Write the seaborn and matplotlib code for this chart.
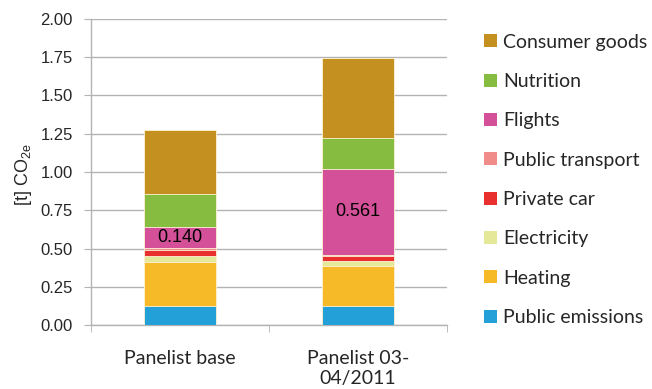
import numpy as np
import pandas as pd
import matplotlib
matplotlib.use("Agg")
import matplotlib.pyplot as plt
from matplotlib.patches import Patch
import seaborn as sns

# Emission data per panel (t CO2e), listed bottom to top of each stack
categories = ["Panelist base", "Panelist 03-\n04/2011"]
components = ["Public emissions", "Heating", "Electricity", "Private car",
              "Public transport", "Flights", "Nutrition", "Consumer goods"]
base_values = [0.126, 0.288, 0.037, 0.040, 0.010, 0.140, 0.218, 0.418]
panel_values = [0.125, 0.262, 0.031, 0.030, 0.011, 0.561, 0.200, 0.523]
colors = ["#23A0D8", "#F6B927", "#E6E899", "#E8302F",
          "#F08C8A", "#D4519A", "#86BD41", "#C49020"]
yticks = [0.00, 0.25, 0.50, 0.75, 1.00, 1.25, 1.50, 1.75, 2.00]

sns.set_style("white")
plt.rcParams["font.family"] = ["Liberation Sans", "DejaVu Sans"]

values = np.array([base_values, panel_values])  # shape (2, n_components)
cumulative = np.cumsum(values, axis=1)

fig = plt.figure(figsize=(6.52, 3.89), dpi=100)
ax = fig.add_axes([0.1396, 0.1645, 0.5460, 0.7867])

# Draw stacks as overlapping cumulative bars, tallest first
for i in range(len(components) - 1, -1, -1):
    df = pd.DataFrame({"cat": categories, "val": cumulative[:, i]})
    sns.barplot(data=df, x="cat", y="val", color=colors[i], width=0.4,
                saturation=1, edgecolor="#FFF3D8", linewidth=0.6, ax=ax,
                zorder=3)

# Value labels on the flights segment
fi = components.index("Flights")
for j in range(len(categories)):
    mid = cumulative[j, fi] - values[j, fi] / 2
    ax.text(j, mid, f"{values[j, fi]:.3f}", ha="center", va="center",
            fontsize=13, color="black", zorder=5)

ax.set_ylim(0, 2.0)
ax.set_xlim(-0.5, 1.5)
ax.set_yticks(yticks)
ax.set_yticklabels([f"{v:.2f}" for v in yticks], fontsize=12)
ax.yaxis.grid(True, color="#B3B3B3", linewidth=1.0, zorder=0)
ax.set_axisbelow(True)
ax.tick_params(axis="y", length=5, color="#B3B3B3", pad=8, direction="out",
               left=True)
ax.set_xticks([0, 1])
ax.set_xticklabels(categories, family=["Lato", "DejaVu Sans"], fontsize=14)
ax.tick_params(axis="x", length=0, pad=18)
ax.set_xticks([-0.5, 0.5, 1.5], minor=True)
ax.tick_params(axis="x", which="minor", length=5, color="#B3B3B3",
               direction="out", bottom=True)
ax.set_xlabel("")
ax.set_ylabel(r"[t] CO$_\mathregular{2e}$", fontsize=13)
ax.yaxis.set_label_coords(-0.16, 0.49)

for s in ["top", "right"]:
    ax.spines[s].set_visible(False)
for s in ["left", "bottom"]:
    ax.spines[s].set_color("#B3B3B3")
    ax.spines[s].set_linewidth(1.0)

handles = [Patch(facecolor=colors[i], edgecolor="none", label=components[i])
           for i in range(len(components) - 1, -1, -1)]
fig.legend(handles=handles, loc="upper left", bbox_to_anchor=(0.722, 0.9486),
           frameon=False, prop={"family": "Lato", "size": 14},
           handlelength=0.65, handleheight=0.65, handletextpad=0.3,
           labelspacing=1.15, borderpad=0.2)

fig.savefig("out.png", dpi=100)
